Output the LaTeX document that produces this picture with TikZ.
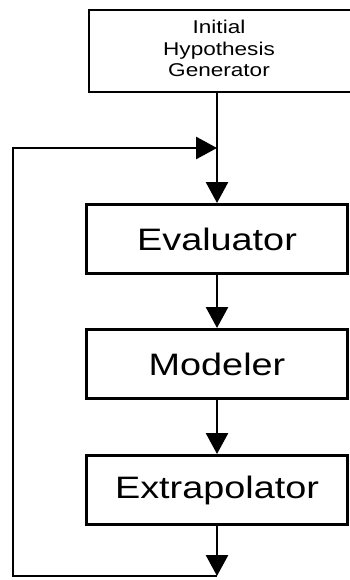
\documentclass[tikz,border=0pt]{standalone}
\usepackage{fontspec}
\newfontfamily\blockfont{Liberation Sans}[FakeStretch=1.22]
\usetikzlibrary{arrows.meta, positioning}

\begin{document}
\begin{tikzpicture}[x=1pt, y=1pt,
    block/.style={draw=black, line width=3pt, rectangle, inner sep=0pt,
                  minimum width=261pt, minimum height=69pt,
                  font=\blockfont\fontsize{31}{36}\selectfont},
    flow/.style={-{Triangle[length=21pt, width=22pt]}, line width=2.8pt}]
    \useasboundingbox (0,0) rectangle (350,-580);

    % the three stages, one under the other
    \node[block] (eval) at (217,-239) {Evaluator};
    \node[block, below=53pt of eval] (model) {Modeler};
    \node[block, below=54pt of model] (extra) {Extrapolator};

    % generator on top (its right side runs off the page)
    \node[draw=black, line width=2pt, rectangle, inner sep=0pt,
          minimum width=290pt, minimum height=82pt, above=110pt of eval, xshift=17pt,
          font=\blockfont\fontsize{18.5}{21.5}\selectfont] (init)
          {\begin{tabular}{@{}c@{}}Initial\\Hypothesis\\Generator\end{tabular}\hspace*{30pt}};

    % feedback loop points
    \coordinate[below=50pt of extra.south] (bot);
    \coordinate (looptop) at (13,-148);
    \coordinate (loopbot) at (looptop |- bot);
    \coordinate (merge) at (eval.north |- looptop);

    % arrows down the chain
    \draw[flow] (init.south -| eval.north) -- (eval.north);
    \draw[flow] (eval) -- (model);
    \draw[flow] (model) -- (extra);
    \draw[flow] (extra) -- (bot);

    % back to the top
    \draw[flow, line join=miter] (bot) -- (loopbot) -- (looptop) -- (merge);
\end{tikzpicture}
\end{document}
